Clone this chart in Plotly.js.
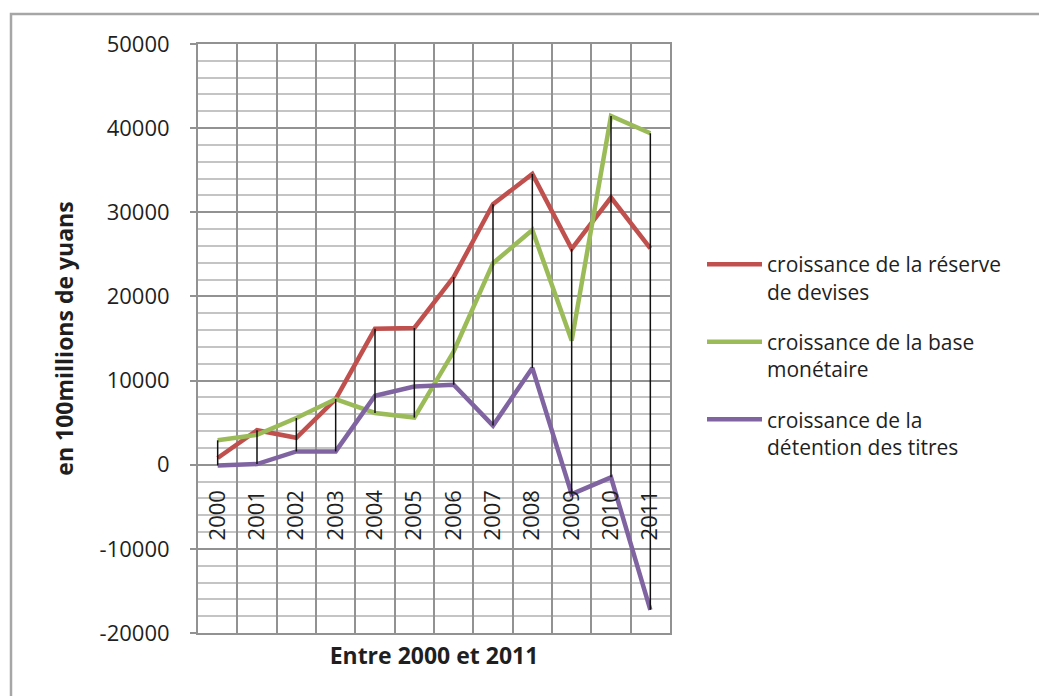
<!DOCTYPE html>
<html>
<head>
<meta charset="utf-8">
<script src="https://cdn.plot.ly/plotly-3.0.1.min.js"></script>
<style>
  html, body { margin: 0; padding: 0; background: #ffffff; }
  #chart { width: 1039px; height: 696px; }
</style>
</head>
<body>
<div id="chart"></div>
<script>
// ---- Data ----
const years = ['2000','2001','2002','2003','2004','2005','2006','2007','2008','2009','2010','2011'];
const reserveDevises = [800, 4100, 3200, 7800, 16150, 16250, 22300, 30950, 34550, 25650, 31750, 25700];
const baseMonetaire = [2900, 3550, 5550, 7800, 6150, 5600, 13450, 23950, 27900, 14750, 41450, 39400];
const detentionTitres = [-80, 80, 1580, 1580, 8200, 9300, 9500, 4650, 11500, -3500, -1500, -17250];
const seriesNames = [
  'croissance de la réserve<br>de devises',
  'croissance de la base<br>monétaire',
  'croissance de la<br>détention des titres'
];
const yTickVals = [-20000, -10000, 0, 10000, 20000, 30000, 40000, 50000];
const yTickText = ['-20000', '-10000', '0', '10000', '20000', '30000', '40000', '50000'];
const xTitle = 'Entre 2000 et 2011';
const yTitle = 'en 100millions de yuans';

// ---- Styling ----
const FONT = 'Open Sans, Liberation Sans, sans-serif';
const TXT = '#1f1f1f';
const GRID = '#929292';
const MINOR = '#c4c4c4';
const colors = ['#C0504D', '#9BBB59', '#8064A2'];

// High-low lines (Excel style): from max to min of the three series per category
const hlX = [], hlY = [];
years.forEach((yr, i) => {
  const vals = [reserveDevises[i], baseMonetaire[i], detentionTitres[i]];
  hlX.push(yr, yr, null);
  hlY.push(Math.max(...vals), Math.min(...vals), null);
});

const seriesData = [reserveDevises, baseMonetaire, detentionTitres];
const traces = seriesData.map((vals, k) => ({
  type: 'scatter', mode: 'lines',
  x: years, y: vals, name: seriesNames[k],
  legendgroup: 'g' + k,
  line: { color: colors[k], width: 4.5 },
  xaxis: 'x', yaxis: 'y',
  hoverinfo: 'skip'
}));
traces.push({
  type: 'scatter', mode: 'lines',
  x: hlX, y: hlY, showlegend: false,
  line: { color: '#111111', width: 1.5 },
  xaxis: 'x2', yaxis: 'y',
  connectgaps: false,
  hoverinfo: 'skip'
});

const L = 198, R = 369, T = 44, B = 63;
const PW = 1039 - L - R, PH = 696 - T - B;
const px2x = p => (p - L) / PW;
const py2y = p => (696 - B - p) / PH;

const layout = {
  width: 1039, height: 696,
  margin: { l: L, r: R, t: T, b: B, pad: 0 },
  paper_bgcolor: '#ffffff', plot_bgcolor: '#ffffff',
  font: { family: FONT, color: TXT, size: 21 },
  showlegend: true,
  legend: {
    x: px2x(702), xanchor: 'left',
    y: py2y(244), yanchor: 'top',
    font: { family: FONT, size: 21, color: TXT },
    tracegroupgap: 20,
    itemwidth: 55,
    valign: 'top',
    bgcolor: 'rgba(0,0,0,0)'
  },
  xaxis: {
    type: 'category', categoryorder: 'array', categoryarray: years,
    range: [-0.5, 11.5],
    tickson: 'boundaries',
    showgrid: true, gridcolor: GRID, gridwidth: 2,
    showticklabels: false, ticks: '',
    showline: true, mirror: true, linecolor: GRID, linewidth: 2,
    zeroline: false,
    fixedrange: true,
    title: { text: xTitle, font: { family: FONT, size: 23, color: TXT, weight: 'bold' }, standoff: 14 }
  },
  xaxis2: {
    type: 'category', categoryorder: 'array', categoryarray: years,
    range: [-0.5, 11.5],
    overlaying: 'x', anchor: 'free',
    position: 20000 / 70000,
    side: 'bottom',
    showgrid: false, showline: false, zeroline: false,
    ticks: '', tickangle: -90,
    ticklabelstandoff: 20,
    tickfont: { family: FONT, size: 22, color: TXT },
    fixedrange: true
  },
  yaxis: {
    range: [-20000, 50000],
    tickmode: 'array', tickvals: yTickVals, ticktext: yTickText,
    showgrid: true, gridcolor: GRID, gridwidth: 2,
    minor: { tickmode: 'linear', tick0: 0, dtick: 2000, showgrid: true, gridcolor: MINOR, gridwidth: 2, ticks: '' },
    zeroline: false,
    ticks: 'outside', ticklen: 6, tickwidth: 2, tickcolor: GRID,
    showline: true, mirror: true, linecolor: GRID, linewidth: 2,
    ticklabelstandoff: 16,
    tickfont: { family: FONT, size: 22, color: TXT },
    fixedrange: true,
    title: { text: yTitle, font: { family: FONT, size: 23, color: TXT, weight: 'bold' }, standoff: 20 }
  },
  shapes: [{
    type: 'rect', xref: 'paper', yref: 'paper',
    x0: px2x(11), x1: px2x(1060), y0: py2y(720), y1: py2y(14),
    line: { color: '#a6a6a6', width: 2.5 }, fillcolor: 'rgba(0,0,0,0)',
    layer: 'below'
  }]
};

Plotly.newPlot('chart', traces, layout, { displayModeBar: false, staticPlot: true });
</script>
</body>
</html>
